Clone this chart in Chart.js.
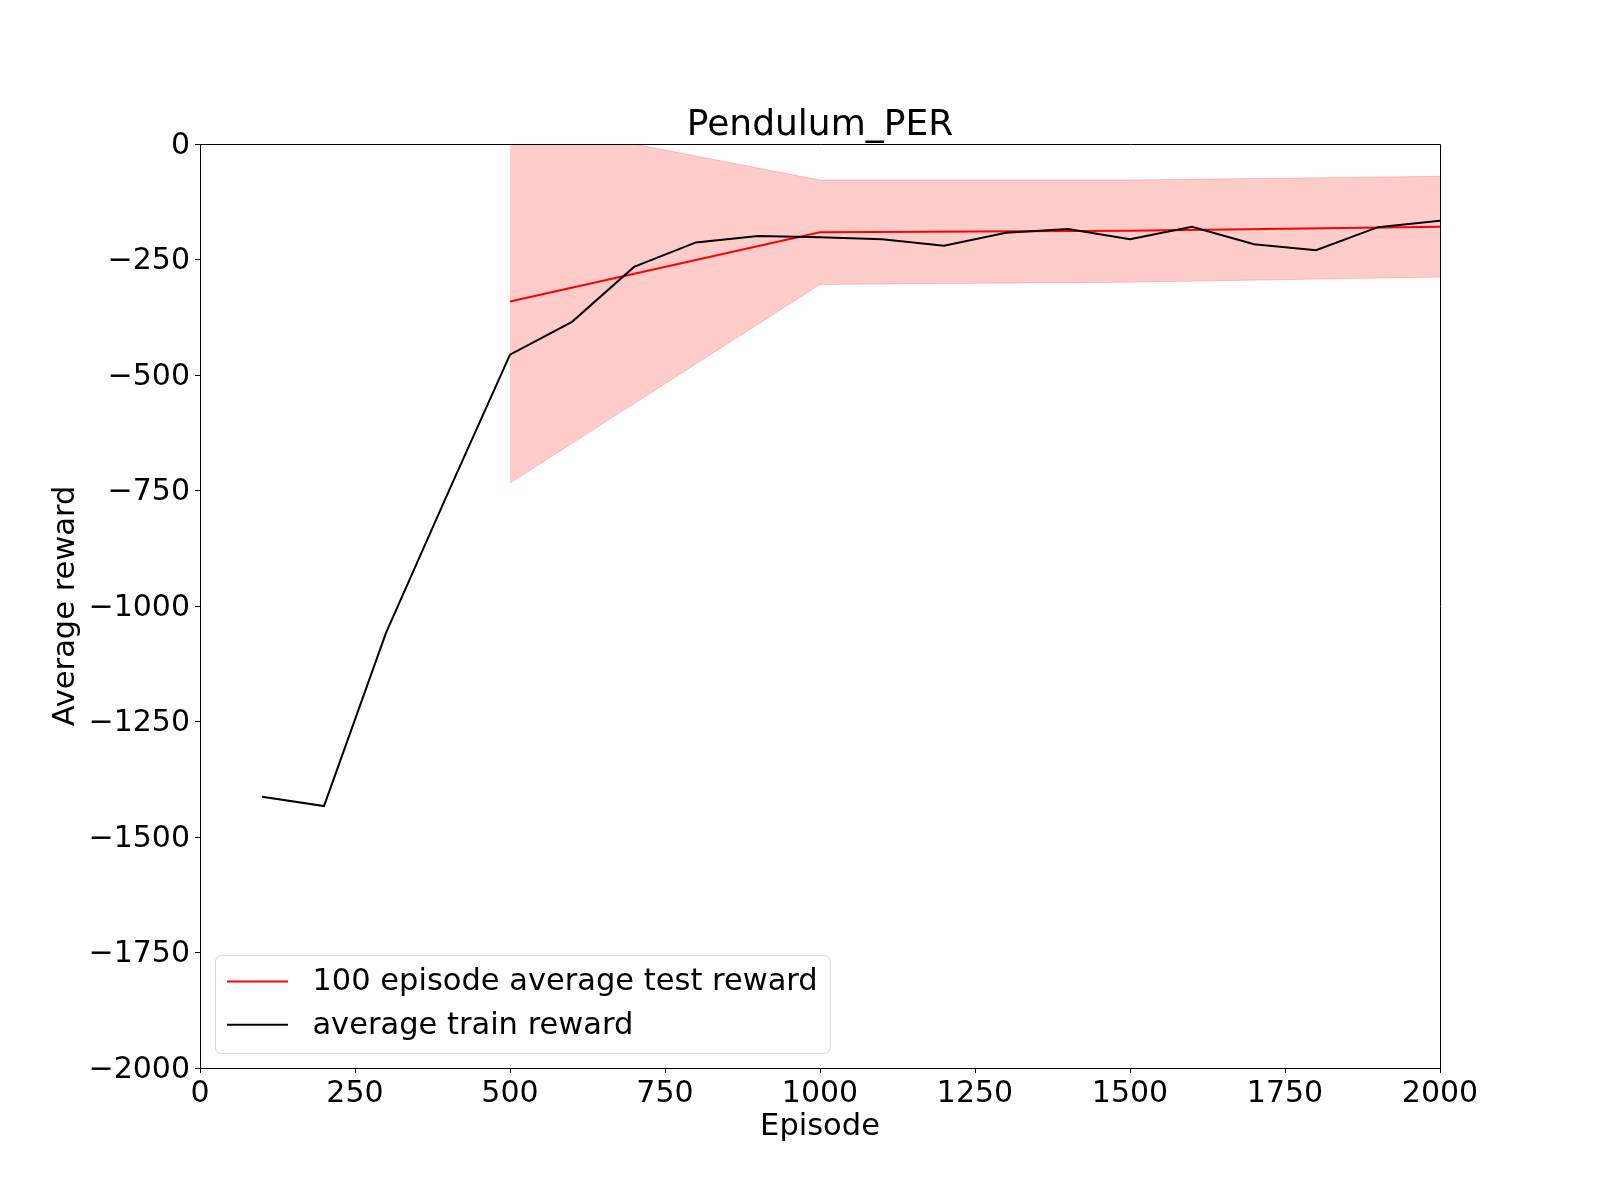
<!DOCTYPE html>
<html>
<head>
<meta charset="utf-8">
<script src="https://cdn.jsdelivr.net/npm/chart.js@4.4.0/dist/chart.umd.min.js"></script>
<style>
html, body { margin: 0; padding: 0; background: #ffffff; }
canvas { display: block; }
</style>
</head>
<body>
<canvas id="c" width="1600" height="1200" style="width:1600px;height:1200px"></canvas>
<script>
// ---------- data ----------
const chartTitle = 'Pendulum_PER';
const xAxisLabel = 'Episode';
const yAxisLabel = 'Average reward';
const testLabel = '100 episode average test reward';
const trainLabel = 'average train reward';

const trainEpisodes = [100, 200, 300, 400, 500, 600, 700, 800, 900, 1000,
                       1100, 1200, 1300, 1400, 1500, 1600, 1700, 1800, 1900, 2000];
const trainReward = [-1413, -1433, -1058, -755, -456, -385, -266, -213, -199, -202,
                     -206, -220, -192, -184, -206, -179, -217, -230, -180, -166];

const testEpisodes = [500, 1000, 1500, 2000];
const testMean  = [-341, -191, -188, -179];
const testUpper = [52, -78, -78, -70];
const testLower = [-734, -304, -299, -288];

const xTicks = [0, 250, 500, 750, 1000, 1250, 1500, 1750, 2000];
const yTicks = [0, -250, -500, -750, -1000, -1250, -1500, -1750, -2000];

// ---------- helpers ----------
const FONT = "'DejaVu Sans', 'Liberation Sans', sans-serif";
const toXY = (xs, ys) => xs.map((x, i) => ({ x: x, y: ys[i] }));
const fmt = v => (v < 0 ? '\u2212' + Math.abs(v) : String(v));

// Frame (all four spines) + matplotlib-style legend
const framePlugin = {
  id: 'framePlugin',
  afterDraw(chart) {
    const { ctx, chartArea: a } = chart;
    ctx.save();
    // spines
    ctx.strokeStyle = '#000000';
    ctx.lineWidth = 1;
    const l = Math.round(a.left) + 0.5, t = Math.round(a.top) + 0.5;
    const r = Math.round(a.right) + 0.5, b = Math.round(a.bottom) + 0.5;
    ctx.beginPath();
    ctx.moveTo(l, t); ctx.lineTo(r, t); ctx.lineTo(r, b); ctx.lineTo(l, b); ctx.closePath();
    ctx.stroke();

    // legend
    const fs = 30.5;
    ctx.font = fs + 'px ' + FONT;
    const items = chart.data.datasets.filter(d => d.inLegend);
    const maxW = Math.max(...items.map(d => ctx.measureText(d.label).width));
    const pad = 12, handleLen = 61, handleGap = 24.4;
    const boxLeft = a.left + 15;
    const boxBottom = a.bottom - 15;
    const boxH = 98;
    const boxTop = boxBottom - boxH;
    const boxW = pad + handleLen + handleGap + maxW + pad;
    ctx.beginPath();
    ctx.roundRect(boxLeft + 0.5, boxTop + 0.5, boxW, boxH, 6);
    ctx.fillStyle = 'rgba(255,255,255,0.8)';
    ctx.fill();
    ctx.strokeStyle = 'rgba(204,204,204,0.8)';
    ctx.lineWidth = 1;
    ctx.stroke();
    items.forEach((d, i) => {
      const cy = boxTop + 27.5 + i * 43.3;
      ctx.strokeStyle = d.borderColor;
      ctx.lineWidth = 2;
      ctx.beginPath();
      ctx.moveTo(boxLeft + pad, cy - 1);
      ctx.lineTo(boxLeft + pad + handleLen, cy - 1);
      ctx.stroke();
      ctx.fillStyle = '#000000';
      ctx.textBaseline = 'middle';
      ctx.textAlign = 'left';
      ctx.fillText(d.label, boxLeft + pad + handleLen + handleGap, cy);
    });
    ctx.restore();
  }
};

const bandColor = 'rgba(255,0,0,0.2)';

new Chart(document.getElementById('c'), {
  type: 'line',
  data: {
    datasets: [
      {
        label: testLabel, inLegend: true,
        data: toXY(testEpisodes, testMean),
        borderColor: '#ff0000', borderWidth: 2, pointRadius: 0,
        fill: false, tension: 0, order: 1
      },
      {
        label: trainLabel, inLegend: true,
        data: toXY(trainEpisodes, trainReward),
        borderColor: '#000000', borderWidth: 2, pointRadius: 0,
        fill: false, tension: 0, order: 0
      },
      {
        label: 'test upper', inLegend: false,
        data: toXY(testEpisodes, testUpper),
        borderColor: bandColor, backgroundColor: bandColor, borderWidth: 1,
        pointRadius: 0, fill: '+1', tension: 0, order: 3
      },
      {
        label: 'test lower', inLegend: false,
        data: toXY(testEpisodes, testLower),
        borderColor: bandColor, backgroundColor: bandColor, borderWidth: 1,
        pointRadius: 0, fill: false, tension: 0, order: 2
      }
    ]
  },
  options: {
    responsive: false,
    animation: false,
    devicePixelRatio: 1,
    layout: { padding: { left: 0, right: 160, top: 0, bottom: 0 } },
    plugins: {
      legend: { display: false },
      tooltip: { enabled: false },
      title: {
        display: true, text: chartTitle, color: '#000000',
        font: { family: FONT, size: 36, weight: 'normal', lineHeight: 0.95 },
        padding: { top: 109, bottom: 0.8 },
        fullSize: false
      }
    },
    scales: {
      x: {
        type: 'linear', min: 0, max: 2000,
        afterBuildTicks: s => { s.ticks = xTicks.map(v => ({ value: v })); },
        afterFit: s => { s.height = 132; },
        grid: { display: true, drawOnChartArea: false, drawTicks: true, tickLength: 5, color: '#000000', lineWidth: 1 },
        border: { display: true, color: '#000000', width: 1 },
        ticks: {
          color: '#000000', padding: 3, autoSkip: false, maxRotation: 0,
          font: { family: FONT, size: 30 },
          callback: v => fmt(v)
        },
        title: {
          display: true, text: xAxisLabel, color: '#000000',
          font: { family: FONT, size: 30.5 },
          padding: { top: 0, bottom: 55 }
        }
      },
      y: {
        type: 'linear', min: -2000, max: 0,
        afterBuildTicks: s => { s.ticks = yTicks.map(v => ({ value: v })); },
        afterFit: s => { s.width = 200; },
        grid: { display: true, drawOnChartArea: false, drawTicks: true, tickLength: 5, color: '#000000', lineWidth: 1 },
        border: { display: true, color: '#000000', width: 1 },
        ticks: {
          color: '#000000', padding: 5, autoSkip: false, labelOffset: 2,
          font: { family: FONT, size: 30 },
          callback: v => fmt(v)
        },
        title: {
          display: true, text: yAxisLabel, color: '#000000',
          font: { family: FONT, size: 30.5 },
          padding: { top: 48, bottom: 0 }
        }
      }
    }
  },
  plugins: [framePlugin]
});
</script>
</body>
</html>
